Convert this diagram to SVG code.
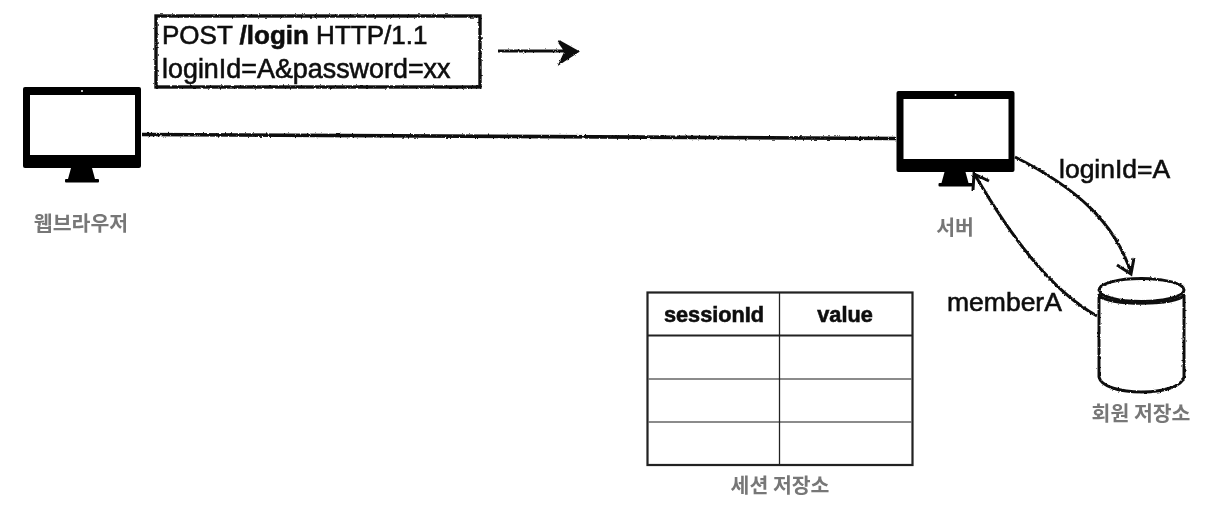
<svg xmlns="http://www.w3.org/2000/svg" width="1210" height="514" viewBox="0 0 1210 514">
<style>
.t{font-family:"Liberation Sans",Arial,sans-serif;fill:#111;font-size:26.500px;stroke:#111;stroke-width:.6}
.b{font-weight:700}
.k{font-family:"Noto Sans CJK KR","Noto Sans",sans-serif;fill:#777;font-size:20.500px;font-weight:700;text-anchor:middle;stroke:none}
.sk{fill:none;stroke:#111;stroke-width:3;filter:url(#rough)}
.tl{stroke:#222;fill:none}
</style>
<defs>
<filter id="rough" x="0" y="0" width="1210" height="514" filterUnits="userSpaceOnUse">
<feTurbulence type="fractalNoise" baseFrequency="0.4" numOctaves="2" seed="4"/>
<feDisplacementMap in="SourceGraphic" scale="2.6" xChannelSelector="R" yChannelSelector="G"/>
</filter>
<filter id="soft" x="0" y="0" width="1210" height="514" filterUnits="userSpaceOnUse">
<feGaussianBlur stdDeviation="0.5"/>
</filter>
<g id="mon">
<rect x="0" y="0" width="118" height="81" rx="2" fill="#000"/>
<rect x="7" y="8" width="105" height="60" fill="#fff"/>
<circle cx="59" cy="4" r="1" fill="#fff"/>
<path d="M48 81H69L72 92H45Z" fill="#000"/>
<rect x="42" y="92" width="34" height="3.500" rx="1" fill="#000"/>
</g>
</defs>
<rect width="1210" height="514" fill="#fff"/>
<g filter="url(#soft)">
<g id="browser">
<use href="#mon" x="23" y="87"/>
<text class="k" x="81" y="231">웹브라우저</text>
</g>
<g id="server">
<use href="#mon" x="896.500" y="91"/>
<text class="k" x="955" y="235">서버</text>
</g>
<g id="request">
<rect class="sk" x="156" y="16" width="324" height="71" style="stroke-width:3.400"/>
<text class="t" x="162" y="44" style="font-size:26px">POST <tspan class="b">/login</tspan> HTTP/1.1</text>
<text class="t" x="162" y="78" style="font-size:26.900px">loginId=A&amp;password=xx</text>
</g>
<g id="connectors">
<path class="sk" d="M142 134.500C400 135 650 137 896 138.500" style="stroke-width:3.600"/>
<path class="sk" d="M498 51H576M559 41.500L577 51.500L561 62L566 51.500Z" style="fill:#111"/>
<path class="sk" d="M1015 157C1075 187 1115 222 1131 273M1117 265L1131 274L1134 258"/>
<path class="sk" d="M1097 316C1050 290 1010 235 975 175M973 190L974 174L989 181"/>
</g>
<g id="labels">
<text class="t" x="1059" y="178">loginId=A</text>
<text class="t" x="947" y="311">memberA</text>
</g>
<g id="member-store">
<path class="sk" d="M1099 294V377C1103 397 1180 397 1184 377V294"/>
<ellipse class="sk" cx="1141.500" cy="290" rx="42.500" ry="11.500" fill="#fff"/>
<path class="sk" d="M1099 295C1105 306 1178 306 1184 295"/>
<text class="k" x="1141" y="421">회원 저장소</text>
</g>
<g id="session-store">
<rect class="tl" x="647.500" y="292.500" width="265" height="172.500" stroke-width="2.200"/>
<path class="tl" d="M648 335.500H912" stroke-width="2.200"/>
<path class="tl" d="M648 379H912M648 422H912" style="stroke:#666" stroke-width="1.500"/>
<path class="tl" d="M779.500 293V465" stroke-width="1.300"/>
<text class="t b" x="714" y="322" text-anchor="middle" style="font-size:21.700px">sessionId</text>
<text class="t b" x="845" y="322" text-anchor="middle" style="font-size:21.700px">value</text>
<text class="k" x="780" y="493">세션 저장소</text>
</g>
</g>
</svg>
